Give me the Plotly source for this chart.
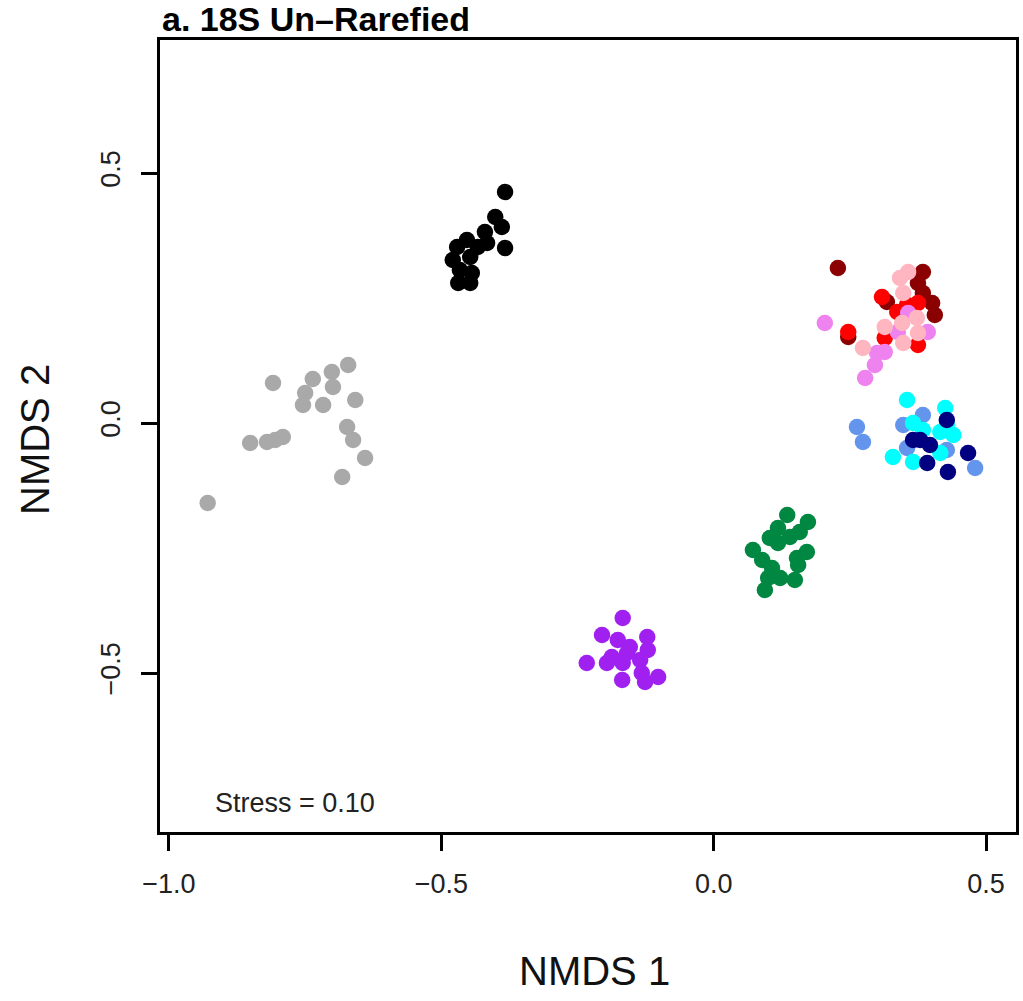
import plotly.graph_objects as go

# ---- data (NMDS coordinates) ----
gray_x = [-0.809, -0.736, -0.750, -0.754, -0.701, -0.699, -0.717, -0.671, -0.658, -0.673, -0.662, -0.640, -0.682, -0.851, -0.820, -0.805, -0.791, -0.929]
gray_y = [0.080, 0.088, 0.060, 0.036, 0.102, 0.072, 0.036, 0.116, 0.046, -0.008, -0.034, -0.070, -0.108, -0.040, -0.038, -0.034, -0.028, -0.160]

black_x = [-0.383, -0.401, -0.389, -0.420, -0.383, -0.453, -0.471, -0.433, -0.479, -0.447, -0.466, -0.444, -0.469, -0.447, -0.416]
black_y = [0.462, 0.412, 0.392, 0.382, 0.350, 0.366, 0.352, 0.352, 0.326, 0.332, 0.306, 0.300, 0.280, 0.280, 0.360]

purple_x = [-0.167, -0.205, -0.176, -0.122, -0.154, -0.121, -0.187, -0.159, -0.233, -0.196, -0.167, -0.135, -0.132, -0.168, -0.126, -0.102]
purple_y = [-0.390, -0.424, -0.434, -0.428, -0.448, -0.454, -0.468, -0.460, -0.480, -0.480, -0.480, -0.474, -0.500, -0.514, -0.518, -0.508]

green_x = [0.135, 0.173, 0.118, 0.158, 0.103, 0.140, 0.118, 0.072, 0.171, 0.153, 0.089, 0.107, 0.155, 0.100, 0.149, 0.122, 0.094]
green_y = [-0.184, -0.198, -0.210, -0.218, -0.230, -0.228, -0.240, -0.254, -0.258, -0.270, -0.274, -0.290, -0.284, -0.310, -0.314, -0.310, -0.334]

darkred_x = [0.228, 0.384, 0.375, 0.384, 0.401, 0.406, 0.318, 0.247]
darkred_y = [0.310, 0.302, 0.280, 0.260, 0.240, 0.216, 0.242, 0.172]

red_x = [0.309, 0.247, 0.375, 0.337, 0.314, 0.375, 0.355]
red_y = [0.252, 0.182, 0.240, 0.222, 0.170, 0.156, 0.236]

violet_x = [0.204, 0.357, 0.393, 0.338, 0.314, 0.300, 0.296, 0.278]
violet_y = [0.200, 0.220, 0.182, 0.182, 0.142, 0.140, 0.116, 0.090]

pink_x = [0.357, 0.342, 0.348, 0.314, 0.346, 0.373, 0.375, 0.348, 0.274]
pink_y = [0.302, 0.290, 0.260, 0.192, 0.200, 0.210, 0.180, 0.160, 0.150]

cornflower_x = [0.263, 0.274, 0.384, 0.348, 0.355, 0.480, 0.428]
cornflower_y = [-0.008, -0.038, 0.016, -0.004, -0.050, -0.090, -0.054]

cyan_x = [0.355, 0.425, 0.366, 0.384, 0.416, 0.440, 0.329, 0.366, 0.416, 0.428]
cyan_y = [0.046, 0.030, 0.000, -0.014, -0.018, -0.024, -0.068, -0.078, -0.060, -0.004]

navy_x = [0.428, 0.379, 0.397, 0.392, 0.430, 0.467, 0.366]
navy_y = [0.006, -0.034, -0.044, -0.080, -0.098, -0.060, -0.034]

groups = [
    (gray_x, gray_y, "#A9A9A9"),
    (black_x, black_y, "#000000"),
    (purple_x, purple_y, "#A020F0"),
    (green_x, green_y, "#008741"),
    (darkred_x, darkred_y, "#8B0000"),
    (red_x, red_y, "#FF0000"),
    (violet_x, violet_y, "#EE82EE"),
    (pink_x, pink_y, "#FFB6C1"),
    (cornflower_x, cornflower_y, "#6495ED"),
    (cyan_x, cyan_y, "#00FFFF"),
    (navy_x, navy_y, "#000080"),
]

x_ticks = [-1.0, -0.5, 0.0, 0.5]
y_ticks = [-0.5, 0.0, 0.5]

FONT = "Liberation Sans, Arial, Helvetica, sans-serif"

fig = go.Figure()
for gx, gy, col in groups:
    fig.add_trace(go.Scatter(x=gx, y=gy, mode="markers",
                             marker=dict(size=16.5, color=col, line=dict(width=0)),
                             showlegend=False, hoverinfo="skip"))

axis_common = dict(showline=True, mirror=True, linewidth=3, linecolor="black",
                   showgrid=False, zeroline=False, ticks="outside", ticklen=16,
                   tickwidth=3, tickcolor="black", tickformat=".1f",
                   tickfont=dict(family=FONT, size=27, color="#222222"))

fig.update_xaxes(range=[-1.0165, 0.555], tickvals=x_ticks, ticklabelstandoff=10, **axis_common)
fig.update_yaxes(range=[-0.818, 0.766], tickvals=y_ticks, tickangle=-90, ticklabelstandoff=10, **axis_common)

fig.add_annotation(text="a. 18S Un\u2013Rarefied", xref="paper", yref="paper", x=0.0, y=1.026,
                   xanchor="left", yanchor="middle", showarrow=False,
                   font=dict(family=FONT, size=34, color="black", weight="bold"))
fig.add_annotation(text="NMDS 1", xref="paper", yref="paper", x=0.508, y=-0.176,
                   xanchor="center", yanchor="middle", showarrow=False,
                   font=dict(family=FONT, size=40, color="#111111"))
fig.add_annotation(text="NMDS 2", xref="paper", yref="paper", x=-0.146, y=0.495,
                   xanchor="center", yanchor="middle", showarrow=False, textangle=-90,
                   font=dict(family=FONT, size=40, color="#111111"))
fig.add_annotation(text="Stress = 0.10", x=-0.919, y=-0.76, xref="x", yref="y",
                   xanchor="left", yanchor="middle", showarrow=False,
                   font=dict(family=FONT, size=27, color="#222222"))

fig.update_layout(width=1023, height=1001, plot_bgcolor="white", paper_bgcolor="white",
                  margin=dict(l=160, r=7, t=40, b=169, autoexpand=False))

fig.write_html("out.html")
